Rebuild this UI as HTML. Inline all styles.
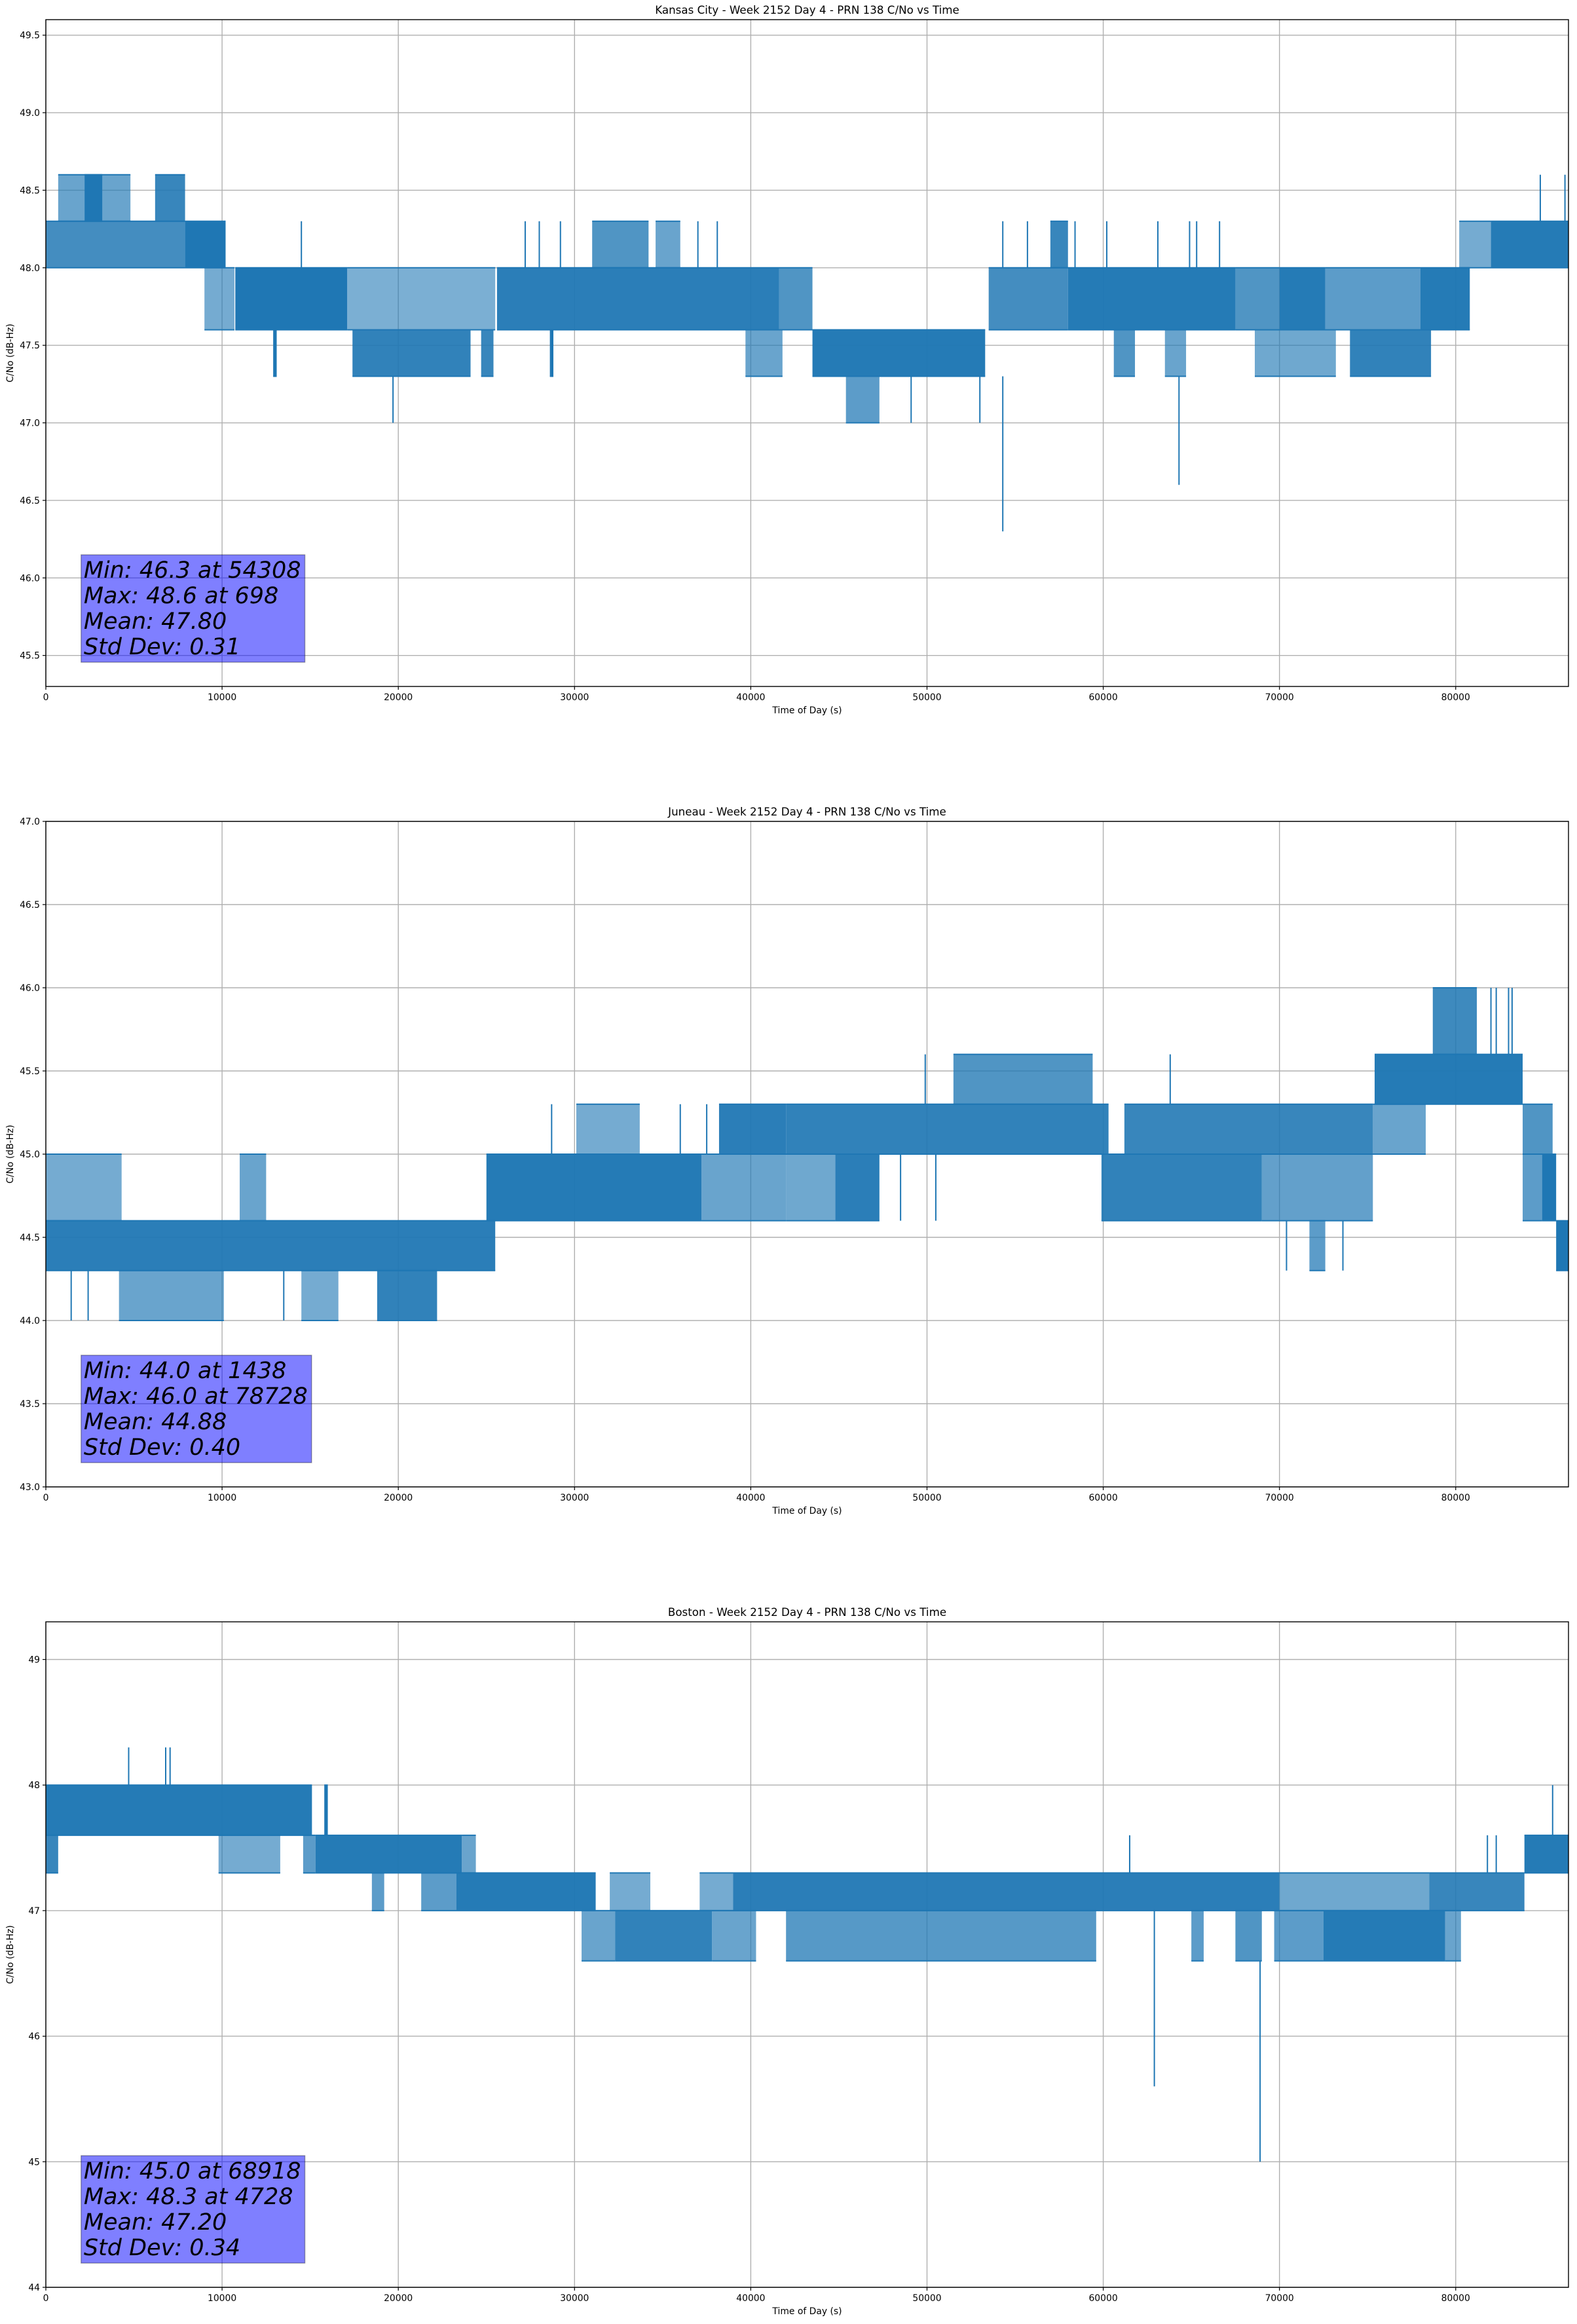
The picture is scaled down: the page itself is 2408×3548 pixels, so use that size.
<!DOCTYPE html>
<html><head><meta charset="utf-8"><style>
html,body{margin:0;padding:0;background:#fff}
svg{display:block}
text{font-family:"DejaVu Sans","Liberation Sans",sans-serif;fill:#000}
</style></head><body>
<svg id="fig" width="2408" height="3548" viewBox="0 0 2408 3548" xmlns="http://www.w3.org/2000/svg"></svg>
<script>
const xTicks=[0,10000,20000,30000,40000,50000,60000,70000,80000];
const xMax=86400;
// Panel 1 - Kansas City
const p1Title="Kansas City - Week 2152 Day 4 - PRN 138 C/No vs Time";
const p1YTicks=[45.5,46.0,46.5,47.0,47.5,48.0,48.5,49.0,49.5];
const p1YLim=[45.3,49.6];
const p1SegStart=[0,700,2200,6200,7900,9000,10750,17100,25600,41600,12900,17400,24700,28600,39700,43500,45400,53500,58000,67500,70000,72600,78000,60600,63500,68600,74000,31000,34600,57000,80200,82000];
const p1SegEnd=[7900,4800,3200,7900,10200,10700,17100,25500,41600,43500,13100,24100,25400,28800,41800,53300,47300,58000,67500,70000,72600,78000,80800,61800,64700,73200,78600,34200,36000,58000,82000,86400];
const p1SegLow=[48.0,48.3,48.3,48.3,48.0,47.6,47.6,47.6,47.6,47.6,47.3,47.3,47.3,47.3,47.3,47.3,47.0,47.6,47.6,47.6,47.6,47.6,47.6,47.3,47.3,47.3,47.3,48.0,48.0,48.0,48.0,48.0];
const p1SegHigh=[48.3,48.6,48.6,48.6,48.3,48.0,48.0,48.0,48.0,48.0,47.6,47.6,47.6,47.6,47.6,47.6,47.3,48.0,48.0,48.0,48.0,48.0,48.0,47.6,47.6,47.6,47.6,48.3,48.3,48.3,48.3,48.3];
const p1SegDensity=[0.7,0.4,1,0.8,1,0.3,1,0.25,0.9,0.6,1,0.85,0.8,1,0.4,0.95,0.5,0.7,0.95,0.6,0.95,0.5,0.95,0.6,0.4,0.35,0.85,0.6,0.4,0.8,0.3,0.95];
const p1SpikeT=[19700,49100,53000,54300,64300,14500,27200,28000,29200,37000,38100,54300,55700,58400,60200,63100,64900,65300,66600,84800,86200];
const p1SpikeLow=[47.0,47.0,47.0,46.3,46.6,48.0,48.0,48.0,48.0,48.0,48.0,48.0,48.0,48.0,48.0,48.0,48.0,48.0,48.0,48.3,48.3];
const p1SpikeHigh=[47.3,47.3,47.3,47.3,47.3,48.3,48.3,48.3,48.3,48.3,48.3,48.3,48.3,48.3,48.3,48.3,48.3,48.3,48.3,48.6,48.6];
const p1Stats=["Min: 46.3 at 54308","Max: 48.6 at 698","Mean: 47.80","Std Dev: 0.31"];
// Panel 2 - Juneau
const p2Title="Juneau - Week 2152 Day 4 - PRN 138 C/No vs Time";
const p2YTicks=[43.0,43.5,44.0,44.5,45.0,45.5,46.0,46.5,47.0];
const p2YLim=[43.0,47.0];
const p2SegStart=[0,0,11000,4150,14500,18800,25000,37200,30100,38200,42000,51500,42000,44800,59900,69000,61200,75300,75400,78700,83800,83800,84900,85700,71700];
const p2SegEnd=[25500,4300,12500,10100,16600,22200,37200,42000,33700,42000,60300,59400,44800,47300,69000,75300,75300,78300,83800,81200,85500,84900,85700,86400,72600];
const p2SegLow=[44.3,44.6,44.6,44.0,44.0,44.0,44.6,44.6,45.0,45.0,45.0,45.3,44.6,44.6,44.6,44.6,45.0,45.0,45.3,45.6,45.0,44.6,44.6,44.3,44.3];
const p2SegHigh=[44.6,45.0,45.0,44.3,44.3,44.3,45.0,45.0,45.3,45.3,45.3,45.6,45.0,45.0,45.0,45.0,45.3,45.3,45.6,46.0,45.3,45.0,45.0,44.6,44.6];
const p2SegDensity=[0.9,0.3,0.4,0.4,0.3,0.85,0.95,0.4,0.3,0.9,0.85,0.6,0.35,0.9,0.85,0.45,0.8,0.4,0.95,0.75,0.6,0.5,1,1,0.5];
const p2SpikeT=[1438,2400,13500,28700,36000,37500,49900,63800,70400,73600,82000,82300,83000,83200,48500,50500];
const p2SpikeLow=[44.0,44.0,44.0,45.0,45.0,45.0,45.3,45.3,44.3,44.3,45.6,45.6,45.6,45.6,44.6,44.6];
const p2SpikeHigh=[44.3,44.3,44.3,45.3,45.3,45.3,45.6,45.6,44.6,44.6,46.0,46.0,46.0,46.0,45.0,45.0];
const p2Stats=["Min: 44.0 at 1438","Max: 46.0 at 78728","Mean: 44.88","Std Dev: 0.40"];
// Panel 3 - Boston
const p3Title="Boston - Week 2152 Day 4 - PRN 138 C/No vs Time";
const p3YTicks=[44,45,46,47,48,49];
const p3YLim=[44.0,49.3];
const p3SegStart=[0,15800,0,9800,14600,15300,23600,18500,21300,23300,32000,37100,39000,70000,78500,30400,32300,37800,42000,65000,67500,69700,72500,79400,83900];
const p3SegEnd=[15100,16000,700,13300,15300,23600,24400,19200,23300,31200,34300,39000,70000,78500,83900,32300,37800,40300,59600,65700,69000,72500,79400,80300,86400];
const p3SegLow=[47.6,47.6,47.3,47.3,47.3,47.3,47.3,47.0,47.0,47.0,47.0,47.0,47.0,47.0,47.0,46.6,46.6,46.6,46.6,46.6,46.6,46.6,46.6,46.6,47.3];
const p3SegHigh=[48.0,48.0,47.6,47.6,47.6,47.6,47.6,47.3,47.3,47.3,47.3,47.3,47.3,47.3,47.3,47.0,47.0,47.0,47.0,47.0,47.0,47.0,47.0,47.0,47.6];
const p3SegDensity=[0.95,1,0.8,0.3,0.5,0.95,0.4,0.5,0.5,0.95,0.3,0.3,0.9,0.35,0.8,0.4,0.85,0.4,0.55,0.5,0.6,0.5,0.95,0.4,0.95];
const p3SpikeT=[4700,6800,7050,62900,68900,61500,81800,82300,85500];
const p3SpikeLow=[48.0,48.0,48.0,45.6,45.0,47.3,47.3,47.3,47.6];
const p3SpikeHigh=[48.3,48.3,48.3,47.0,46.6,47.6,47.6,47.6,48.0];
const p3Stats=["Min: 45.0 at 68918","Max: 48.3 at 4728","Mean: 47.20","Std Dev: 0.34"];

const NS="http://www.w3.org/2000/svg";
const svg=document.getElementById('fig');
function mk(tag,attrs,parent){const e=document.createElementNS(NS,tag);for(const k in attrs)e.setAttribute(k,attrs[k]);(parent||svg).appendChild(e);return e;}
const L=70,R=2395;
function drawPanel(id,top,bottom,title,yTicks,yLim,segS,segE,segLo,segHi,segD,spT,spLo,spHi,stats,yFmt){
  const g=mk('g',{});
  
  
  const xs=t=>L+(t/xMax)*(R-L);
  const ys=v=>bottom-(v-yLim[0])/(yLim[1]-yLim[0])*(bottom-top);
  xTicks.forEach(t=>{const l=mk('line',{x1:xs(t),x2:xs(t),y1:top,y2:bottom,stroke:'#b0b0b0','stroke-width':1.4},g);
    });
  yTicks.forEach(v=>{const l=mk('line',{x1:L,x2:R,y1:ys(v),y2:ys(v),stroke:'#b0b0b0','stroke-width':1.4},g);
    });
  const dg=mk('g',{},g);
  
  
  for(let i=0;i<segS.length;i++){
    const op=0.45+0.55*segD[i];
    const r=mk('rect',{x:xs(segS[i]),y:ys(segHi[i]),width:Math.max(1.5,xs(segE[i])-xs(segS[i])),height:ys(segLo[i])-ys(segHi[i]),fill:'#1f77b4','fill-opacity':op},dg);
    
    
    [segLo[i],segHi[i]].forEach(v=>{const l=mk('line',{x1:xs(segS[i]),x2:xs(segE[i]),y1:ys(v),y2:ys(v),stroke:'#1f77b4','stroke-width':2},dg);
      });
  }
  for(let i=0;i<spT.length;i++){
    const l=mk('line',{x1:xs(spT[i]),x2:xs(spT[i]),y1:ys(spLo[i]),y2:ys(spHi[i]),stroke:'#1f77b4','stroke-width':2},dg);
    
    
  }
  const fr=mk('rect',{x:L,y:top,width:R-L,height:bottom-top,fill:'none',stroke:'#000','stroke-width':1.4},g);
  
  xTicks.forEach(t=>{mk('line',{x1:xs(t),x2:xs(t),y1:bottom,y2:bottom+5,stroke:'#000','stroke-width':1.2},g);
    const tx=mk('text',{x:xs(t),y:bottom+21,'text-anchor':'middle','font-size':13.9},g);tx.textContent=t;
    });
  yTicks.forEach(v=>{mk('line',{x1:L-5,x2:L,y1:ys(v),y2:ys(v),stroke:'#000','stroke-width':1.2},g);
    const tx=mk('text',{x:L-9,y:ys(v)+5,'text-anchor':'end','font-size':13.9},g);tx.textContent=yFmt(v);
    });
  const ti=mk('text',{x:(L+R)/2,y:top-9,'text-anchor':'middle','font-size':16.7},g);ti.textContent=title;
  
  const xl=mk('text',{x:(L+R)/2,y:bottom+41,'text-anchor':'middle','font-size':13.9},g);xl.textContent='Time of Day (s)';
  
  const cy=(top+bottom)/2;
  const yl=mk('text',{x:20,y:cy,'text-anchor':'middle','font-size':13.9,transform:'rotate(-90 20 '+cy+')'},g);yl.textContent='C/No (dB-Hz)';
  
  const sg=mk('g',{},g);
  
  
  const box=mk('rect',{fill:'#0000ff','fill-opacity':0.5,stroke:'#000','stroke-opacity':0.35,'stroke-width':1.4},sg);
  const pitch=39,lastBase=bottom-49;
  const tx0=xs(2000)+4;
  const te=[];
  stats.forEach((s,i)=>{const t=mk('text',{x:tx0,y:lastBase-(stats.length-1-i)*pitch,'font-size':35,'font-style':'italic'},sg);t.textContent=s;te.push(t);
    });
  let maxW=0;te.forEach(t=>{maxW=Math.max(maxW,t.getComputedTextLength());});
  const bx=xs(2000), btop=lastBase-(stats.length-1)*pitch-35, bbot=lastBase+12;
  box.setAttribute('x',bx);box.setAttribute('y',btop);box.setAttribute('width',maxW+10);box.setAttribute('height',bbot-btop);
}
drawPanel('kansas-city',30,1048,p1Title,p1YTicks,p1YLim,p1SegStart,p1SegEnd,p1SegLow,p1SegHigh,p1SegDensity,p1SpikeT,p1SpikeLow,p1SpikeHigh,p1Stats,v=>v.toFixed(1));
drawPanel('juneau',1254,2270,p2Title,p2YTicks,p2YLim,p2SegStart,p2SegEnd,p2SegLow,p2SegHigh,p2SegDensity,p2SpikeT,p2SpikeLow,p2SpikeHigh,p2Stats,v=>v.toFixed(1));
drawPanel('boston',2476,3492,p3Title,p3YTicks,p3YLim,p3SegStart,p3SegEnd,p3SegLow,p3SegHigh,p3SegDensity,p3SpikeT,p3SpikeLow,p3SpikeHigh,p3Stats,v=>String(v));
</script>
</body></html>
